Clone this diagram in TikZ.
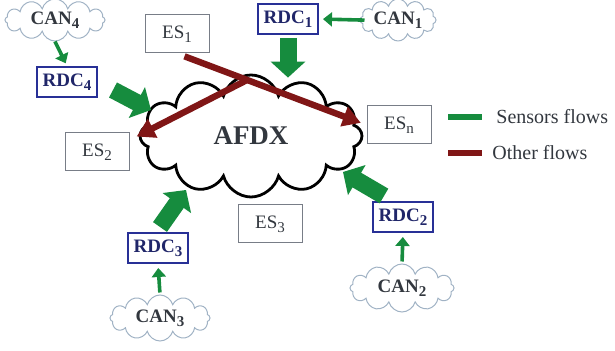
\documentclass[tikz,border=0pt]{standalone}
\usepackage{fontspec}
\setmainfont{Liberation Serif}
\usepackage{xcolor}
\usepackage{tikz}
\usetikzlibrary{shapes.symbols, arrows.meta}
\definecolor{sensorgreen}{RGB}{22, 140, 62}
\definecolor{otherred}{RGB}{128, 22, 22}
\definecolor{rdcblue}{RGB}{40, 48, 150}
\definecolor{rdctext}{RGB}{32, 38, 105}
\definecolor{esgray}{RGB}{120, 125, 135}
\definecolor{cangray}{RGB}{160, 178, 196}
\definecolor{textdark}{RGB}{50, 55, 62}
\newcommand{\lowidx}[1]{\raisebox{-0.45ex}{\fontsize{7.5}{8}\selectfont #1}}

\begin{document}
\begin{tikzpicture}[x=0.5pt, y=-0.5pt,
    canbus/.style={cloud, cloud puffs=12, cloud ignores aspect, draw=cangray, line width=0.5pt,
        minimum width=50pt, minimum height=21pt, inner sep=0pt,
        font=\fontsize{9.5}{11}\selectfont\bfseries, text=textdark},
    rdcbox/.style={draw=rdcblue, line width=1pt, minimum width=30pt, minimum height=15pt, inner sep=0pt,
        font=\fontsize{9.5}{11}\selectfont\bfseries, text=rdctext},
    esbox/.style={draw=esgray, line width=0.5pt, minimum width=32pt, minimum height=19pt, inner sep=0pt,
        font=\fontsize{9.5}{11}\selectfont, text=textdark},
    bigflow/.style={sensorgreen, line width=8.5pt, -{Triangle[width=17pt, length=8pt]}},
    smallflow/.style={sensorgreen, line width=1.8pt, -{Triangle[width=7pt, length=4.5pt]}},
    otherflow/.style={otherred, line width=3.2pt, -{Triangle[width=10pt, length=9pt]}},
    legendtext/.style={anchor=west, inner sep=0pt, font=\fontsize{10}{12}\selectfont, text=textdark}]
    \useasboundingbox (0,0) rectangle (615,351);

    \node[cloud, cloud puffs=12, cloud ignores aspect, draw=black, line width=1.4pt,
        minimum width=111pt, minimum height=61pt, inner sep=0pt,
        font=\fontsize{13.5}{15}\selectfont\bfseries, text=textdark] (afdx) at (251,136) {AFDX};

    \node[canbus] (can4) at (55,20) {CAN\lowidx{4}};
    \node[canbus, minimum width=38pt] (can1) at (398,20) {CAN\lowidx{1}};
    \node[canbus, minimum width=52pt, minimum height=24pt] (can2) at (402,288) {CAN\lowidx{2}};
    \node[canbus, minimum height=23pt] (can3) at (160,318) {CAN\lowidx{3}};

    \node[rdcbox] (rdc4) at (67,82) {RDC\lowidx{4}};
    \node[rdcbox] (rdc1) at (288,19) {RDC\lowidx{1}};
    \node[rdcbox] (rdc2) at (403,217) {RDC\lowidx{2}};
    \node[rdcbox] (rdc3) at (158,248) {RDC\lowidx{3}};

    \node[esbox] (es1) at (177,34) {ES\lowidx{1}};
    \node[esbox] (es2) at (97,152) {ES\lowidx{2}};
    \node[esbox] (esn) at (399,125) {ES\lowidx{n}};
    \node[esbox] (es3) at (270,224) {ES\lowidx{3}};

    \draw[smallflow, shorten <=0pt, shorten >=1.5pt] (can4.south) -- (rdc4.north);
    \draw[smallflow, shorten <=-2.5pt, shorten >=2pt] (can1.west) -- (rdc1.east);
    \draw[smallflow, shorten <=1pt, shorten >=2pt] (can2.north) -- (rdc2.south);
    \draw[smallflow, shorten <=1pt, shorten >=2pt] (can3.north) -- (rdc3.south);

    \draw[bigflow] ([shift={(15,8)}]rdc4.east) -- ([shift={(-100,-26)}]afdx.center);
    \draw[bigflow, shorten <=1.5pt, shorten >=-2pt] (rdc1.south) -- (rdc1.south |- afdx.north);
    \draw[bigflow] ([shift={(12,-5)}]rdc2.north west) -- ([shift={(92,36)}]afdx.center);
    \draw[bigflow] ([shift={(2,-5)}]rdc3.north) -- ([shift={(-65,54)}]afdx.center);

    \draw[otherflow, shorten <=4pt, shorten >=3pt] (es1.south) -- coordinate[pos=0.37] (cross) (esn.west);
    \draw[otherflow, shorten >=4pt] (cross) -- (es2.20);

    \node[legendtext] (sensorslbl) at (496,117) {Sensors flows};
    \node[legendtext] (otherlbl) at (492,153) {Other flows};
    \draw[sensorgreen, line width=3pt] ([shift={(-48,0)}]sensorslbl.west) -- ([shift={(-14,0)}]sensorslbl.west);
    \draw[otherred, line width=3pt] ([shift={(-44,0)}]otherlbl.west) -- ([shift={(-10,0)}]otherlbl.west);
\end{tikzpicture}
\end{document}
